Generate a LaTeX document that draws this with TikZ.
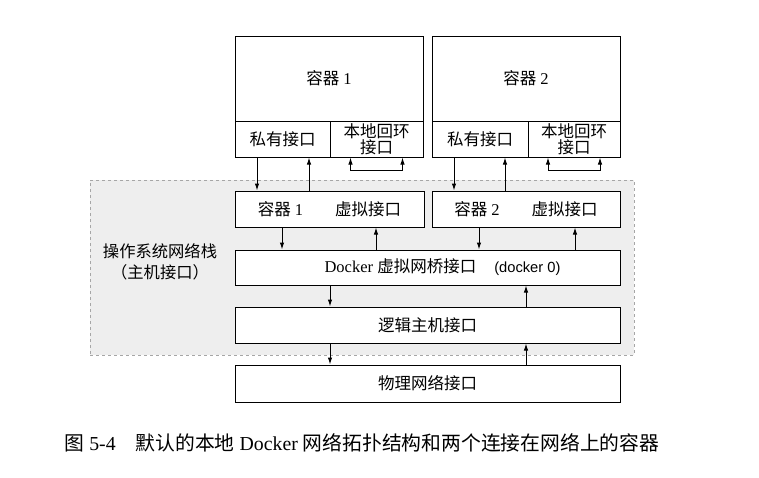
\documentclass[tikz,border=0pt]{standalone}
\usepackage{fontspec}
\setmainfont{Liberation Serif}
\newfontfamily\cjk{Noto Sans CJK SC}
\newfontfamily\lsans{Liberation Sans}
\usetikzlibrary{arrows.meta}

\begin{document}
\begin{tikzpicture}[x=1pt, y=-1pt,
    box/.style={draw, rectangle, line width=1pt, fill=white, inner sep=0pt, align=center, font=\fontsize{16.5}{16.5}\selectfont},
    arr/.style={-{Latex[length=7pt, width=4.5pt]}, line width=1pt},
    loopback/.style={{Latex[length=7pt, width=4.5pt]}-{Latex[length=7pt, width=4.5pt]}, line width=1pt}]
            \useasboundingbox (0, 0) rectangle (759, 477);
            \node[draw, dashed, gray!70, line width=0.9pt, fill=gray!13, minimum width=544pt, minimum height=175pt] (os) at (362, 267.5) {};
            \node[align=center, font=\fontsize{16.3}{21}\selectfont\cjk] (osl) at (160, 262) {操作系统网络栈\\（主机接口）};
            \node[box, minimum width=188pt, minimum height=85pt] (c1) at (329, 78.5) {{\cjk 容器} 1};
            \node[box, minimum width=95pt, minimum height=36pt] (c1p) at (282.5, 139) {\cjk 私有接口};
            \node[box, minimum width=93pt, minimum height=36pt, font=\fontsize{16.5}{16}\selectfont\cjk] (c1l) at (376.5, 139) {本地回环\\接口};
            \node[box, minimum width=188pt, minimum height=85pt] (c2) at (526, 78.5) {{\cjk 容器} 2};
            \node[box, minimum width=96pt, minimum height=36pt] (c2p) at (480, 139) {\cjk 私有接口};
            \node[box, minimum width=92pt, minimum height=36pt, font=\fontsize{16.5}{16}\selectfont\cjk] (c2l) at (574, 139) {本地回环\\接口};
            \node[box, minimum width=189pt, minimum height=36pt] (v1) at (329.5, 209) {{\cjk 容器} 1\hspace{32pt}{\cjk 虚拟接口}};
            \node[box, minimum width=188pt, minimum height=36pt] (v2) at (526, 209) {{\cjk 容器} 2\hspace{32pt}{\cjk 虚拟接口}};
            \node[box, minimum width=385pt, minimum height=35pt] (br) at (427.5, 267.5) {\hspace*{30pt}Docker {\cjk 虚拟网桥接口}\hspace{18pt}{\lsans\fontsize{14.7}{16}\selectfont (docker 0)}};
            \node[box, minimum width=385pt, minimum height=36pt] (lg) at (427.5, 325) {\cjk 逻辑主机接口};
            \node[box, minimum width=385pt, minimum height=37pt] (ph) at (427.5, 383.5) {\cjk 物理网络接口};
            \node[anchor=west, font=\fontsize{19.8}{21}\selectfont] (cap) at (61, 443) {{\cjk 图} 5-4\hspace{20pt}{\cjk 默认的本地} Docker {\cjk 网络拓扑结构和两个连接在网络上的容器}};
            \draw[arr] ([xshift=-25.5pt]c1p.south) -- ([xshift=-25.5pt]c1p.south |- v1.north);
            \draw[arr] ([xshift=26.5pt]c1p.south |- v1.north) -- ([xshift=26.5pt]c1p.south);
            \draw[loopback] ([xshift=-26pt]c1l.south) -- ++(0, 13) -| ([xshift=26pt]c1l.south);
            \draw[arr] ([xshift=-26pt]c2p.south) -- ([xshift=-26pt]c2p.south |- v2.north);
            \draw[arr] ([xshift=25pt]c2p.south |- v2.north) -- ([xshift=25pt]c2p.south);
            \draw[loopback] ([xshift=-26pt]c2l.south) -- ++(0, 13) -| ([xshift=26pt]c2l.south);
            \draw[arr] ([xshift=-47.5pt]v1.south) -- ([xshift=-47.5pt]v1.south |- br.north);
            \draw[arr] ([xshift=46.5pt]v1.south |- br.north) -- ([xshift=46.5pt]v1.south);
            \draw[arr] ([xshift=-47pt]v2.south) -- ([xshift=-47pt]v2.south |- br.north);
            \draw[arr] ([xshift=49pt]v2.south |- br.north) -- ([xshift=49pt]v2.south);
            \draw[arr] ([xshift=-97.5pt]br.south) -- ([xshift=-97.5pt]br.south |- lg.north);
            \draw[arr] ([xshift=98.5pt]br.south |- lg.north) -- ([xshift=98.5pt]br.south);
            \draw[arr] ([xshift=-97.5pt]lg.south) -- ([xshift=-97.5pt]lg.south |- ph.north);
            \draw[arr] ([xshift=98.5pt]lg.south |- ph.north) -- ([xshift=98.5pt]lg.south);
        \end{tikzpicture}
\end{document}
